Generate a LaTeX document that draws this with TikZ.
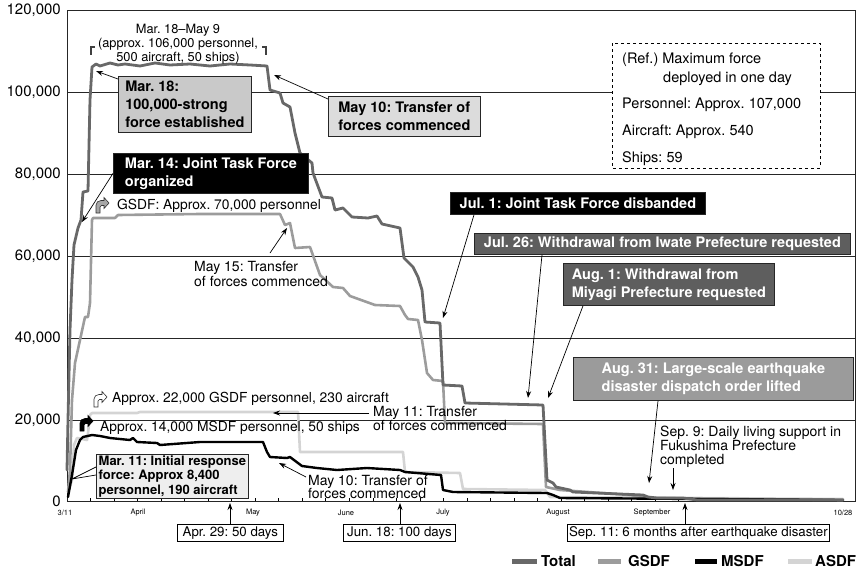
\documentclass[tikz,border=0pt]{standalone}
\usepackage{fontspec}
\setmainfont{TeX Gyre Heros}
\usetikzlibrary{arrows.meta}
\frenchspacing
\definecolor{ctotal}{HTML}{686868}
\definecolor{cgsdf}{HTML}{9C9C9C}
\definecolor{cmsdf}{HTML}{000000}
\definecolor{casdf}{HTML}{D4D4D4}
\definecolor{boxlight}{HTML}{C9C9C9}
\definecolor{boxpale}{HTML}{DCDCDC}
\definecolor{boxfaint}{HTML}{EEEEEE}
\definecolor{boxdark}{HTML}{5E5E5E}
\definecolor{boxmid}{HTML}{9B9B9B}
\newcommand\fsz[2]{\fontsize{#1}{#2}\selectfont\frenchspacing}
\tikzset{
  grid line/.style={line width=0.7pt, black!85},
  curve/.style={line width=2.6pt, line join=round, line cap=round},
  callout/.style={draw=black!85, line width=0.8pt, anchor=north west, align=left, inner xsep=0pt, inner ysep=0pt, font=\fsz{14.5}{18}\bfseries},
  datebox/.style={draw=black, line width=0.8pt, anchor=north west, align=center, inner sep=0pt, font=\fsz{13.3}{15}},
  plain/.style={inner sep=0pt, align=left},
  ptr/.style={line width=0.7pt, -{Stealth[length=7pt,width=5pt]}},
  leader/.style={line width=0.7pt},
  ylab/.style={anchor=east, inner sep=0pt, font=\fsz{15}{16}},
  xlab/.style={anchor=center, inner sep=0pt, font=\fsz{7.5}{8}},
  legtext/.style={anchor=west, inner sep=0pt, font=\fsz{15}{16}\bfseries},
  benticon/.pic={\path[pic actions] (0,14) -- (0,6) to[out=90,in=180] (5,1.5) -- (8,1.5) -- (8,-1.5) -- (13,4) -- (8,9.5) -- (8,6.5) -- (5.5,6.5) to[out=180,in=90] (4,8) -- (4,14) -- cycle;}
}
\begin{document}
\begin{tikzpicture}[x=1pt,y=-1pt]
\useasboundingbox (0,0) rectangle (858,570);

% grid and frame
\foreach \gy in {92,174,256,338,420} \draw[grid line] (67,\gy) -- (855,\gy);
\draw[grid line] (67,10) rectangle (855,501);
\foreach \d in {7,14,...,231} \draw[line width=0.5pt] ({67+3.36*\d},501) -- ++(0,-3);

% y labels
\node[ylab] (y120) at (61,10) {120,000};
\node[ylab] (y100) at (61,92) {100,000};
\node[ylab] (y80) at (61,174) {80,000};
\node[ylab] (y60) at (61,256) {60,000};
\node[ylab] (y40) at (61,338) {40,000};
\node[ylab] (y20) at (61,420) {20,000};
\node[ylab] (y0) at (61,501) {0};

% x labels
\node[xlab] (x1) at (65,513) {3/11};
\node[xlab] (x2) at (138,513) {April};
\node[xlab] (x3) at (253,513) {May};
\node[xlab] (x4) at (346,513) {June};
\node[xlab] (x5) at (443,513) {July};
\node[xlab] (x6) at (558,513) {August};
\node[xlab] (x7) at (652,513) {September};
\node[xlab] (x8) at (843,513) {10/28};

% curves
\draw[curve, casdf] (69,490) -- (72,480) -- (74,445) -- (77,438) -- (87,440) -- (88,433) -- (90,415) -- (92,413) -- (137,413) -- (140,412) -- (298,412) -- (300,452) -- (403,452) -- (405,472) -- (460,473) -- (463,489) -- (545,490) -- (550,497) -- (843,499);
\draw[curve, cgsdf] (68,492) -- (70,470) -- (72,400) -- (75,363) -- (85,317) -- (88,317) -- (90,303) -- (92,220) -- (93,218) -- (115,218) -- (118,215) -- (200,214) -- (280,214) -- (285,225) -- (290,223) -- (295,248) -- (310,247) -- (320,275) -- (333,287) -- (343,288) -- (350,296) -- (375,305) -- (400,306) -- (405,315) -- (408,319) -- (418,320) -- (422,340) -- (427,373) -- (433,380) -- (443,381) -- (445,423) -- (543,424) -- (546,487) -- (560,490) -- (630,495) -- (647,498) -- (843,500);
\draw[curve, cmsdf, line width=2.4pt] (68,497) -- (72,475) -- (76,450) -- (80,440) -- (83,437) -- (92,435) -- (100,436) -- (110,438) -- (130,440) -- (133,438) -- (137,442) -- (157,443) -- (160,445) -- (200,442) -- (263,442) -- (267,452) -- (270,457) -- (287,458) -- (290,457) -- (302,466) -- (317,468) -- (337,470) -- (367,468) -- (400,470) -- (405,472) -- (441,475) -- (443,490) -- (453,492) -- (547,493) -- (553,495) -- (560,498) -- (843,500);
\draw[curve, ctotal, line width=2.8pt] (67,470) -- (68,420) -- (70,330) -- (72,280) -- (74,245) -- (78,228) -- (81,220) -- (83,192) -- (88,191) -- (90,100) -- (92,67) -- (96,64) -- (100,66) -- (110,63) -- (118,65) -- (125,64) -- (140,66) -- (155,63) -- (170,65) -- (190,64) -- (210,66) -- (230,64) -- (250,65) -- (267,66) -- (270,90) -- (280,93) -- (283,103) -- (290,107) -- (295,133) -- (300,153) -- (312,163) -- (313,173) -- (322,197) -- (332,198) -- (335,210) -- (343,208) -- (352,217) -- (368,218) -- (377,216) -- (382,224) -- (400,228) -- (404,258) -- (413,267) -- (418,277) -- (422,290) -- (425,322) -- (440,323) -- (443,385) -- (462,386) -- (465,403) -- (543,405) -- (547,480) -- (553,483) -- (556,487) -- (570,490) -- (573,492) -- (643,495) -- (648,497) -- (657,498) -- (683,498) -- (697,500) -- (843,500);

% target coordinates
\coordinate (t18) at (96,71);
\coordinate (t14) at (82,222);
\coordinate (t10a) at (274,75);
\coordinate (t15) at (287,228);
\coordinate (s15) at (270,253);
\coordinate (tjul1) at (443,318);
\coordinate (tjul26) at (528,398);
\coordinate (taug1) at (548,398);
\coordinate (taug31) at (649,483);
\coordinate (tsep9) at (673,490);
\coordinate (ssep9) at (673,468);
\coordinate (t11) at (273,413);
\coordinate (s11) at (369,413);
\coordinate (t10b) at (279,463);
\coordinate (s10b) at (306,477);
\coordinate (tm11) at (72,479);
\coordinate (tapr) at (230,503);
\coordinate (tjun) at (400,503);
\coordinate (tsep) at (685,503);

% bracket
\draw[line width=1.2pt, black!75] (95,47) -- (91,47) -- (91,55);
\draw[line width=1.2pt, black!75] (262,47) -- (266,47) -- (266,55);
\node[plain, anchor=north, align=center, font=\fsz{12.8}{14}] (period) at (178,24) {Mar. 18–May 9\\(approx. 106,000 personnel,\\500 aircraft, 50 ships)};

% callout boxes
\node[callout, fill=boxlight, minimum width=133pt, minimum height=56pt] (m18) at (118,76) {Mar. 18:\\100,000-strong\\force established};
\node[callout, fill=boxpale, minimum width=152pt, minimum height=40pt] (m10a) at (328,96) {May 10: Transfer of\\forces commenced};
\node[callout, fill=black, text=white, minimum width=195pt, minimum height=40pt] (m14) at (113,153) {Mar. 14: Joint Task Force\\organized};
\node[callout, fill=black, text=white, minimum width=255pt, minimum height=22pt] (jul1) at (450,192) {Jul. 1: Joint Task Force disbanded};
\node[callout, fill=boxdark, text=white, minimum width=376pt, minimum height=21pt] (jul26) at (474,233) {Jul. 26: Withdrawal from Iwate Prefecture requested};
\node[callout, fill=boxdark, text=white, minimum width=211pt, minimum height=42pt] (aug1) at (563,263) {Aug. 1: Withdrawal from\\Miyagi Prefecture requested};
\node[callout, fill=boxmid, text=white, minimum width=280pt, minimum height=43pt] (aug31) at (573,357) {Aug. 31: Large-scale earthquake\\disaster dispatch order lifted};
\node[callout, fill=boxfaint, minimum width=152pt, minimum height=44pt, font=\fsz{13}{14.5}\bfseries] (m11) at (96,454) {Mar. 11: Initial response\\force: Approx 8,400\\personnel, 190 aircraft};

% reference box
\draw[dashed, line width=0.7pt, fill=white] (612,43) rectangle (820,168);
\node[plain, anchor=base west, font=\fsz{14.5}{16}] (ref1) at (622,63) {(Ref.) Maximum force};
\node[plain, anchor=base west, font=\fsz{14.5}{16}] (ref2) at (663,82.5) {deployed in one day};
\node[plain, anchor=base west, font=\fsz{14.5}{16}] (ref3) at (622,108) {Personnel: Approx. 107,000};
\node[plain, anchor=base west, font=\fsz{14.5}{16}] (ref4) at (622,135) {Aircraft: Approx. 540};
\node[plain, anchor=base west, font=\fsz{14.5}{16}] (ref5) at (622,162) {Ships: 59};

% plain labels
\pic[draw=black!80, fill=black!35, line width=0.6pt] at (96,199) {benticon};
\node[plain, anchor=base west, font=\fsz{13.8}{15}] (gsdf70) at (117,209) {GSDF: Approx. 70,000 personnel};
\node[plain, anchor=north west, font=\fsz{14}{15}] (m15) at (194,261) {May 15: Transfer\\of forces commenced};
\pic[draw=black!80, fill=white, line width=0.6pt] at (94,393) {benticon};
\node[plain, anchor=base west, font=\fsz{13.8}{15}] (g22) at (112,402) {Approx. 22,000 GSDF personnel, 230 aircraft};
\pic[draw=black, fill=black, line width=0.6pt] at (80,417) {benticon};
\node[plain, anchor=base west, font=\fsz{13.8}{15}] (m14k) at (100,431) {Approx. 14,000 MSDF personnel, 50 ships};
\node[plain, anchor=north west, font=\fsz{14}{12.8}] (m11t) at (373,406) {May 11: Transfer\\of forces commenced};
\node[plain, anchor=north west, font=\fsz{14}{13.5}] (m10b) at (308,475) {May 10: Transfer of\\forces commenced};
\node[plain, anchor=north west, font=\fsz{14}{14}] (sep9) at (660,426) {Sep. 9: Daily living support in\\Fukushima Prefecture\\completed};

% date boxes
\node[datebox, minimum width=106pt, minimum height=17pt] (apr29) at (177,524) {Apr. 29: 50 days};
\node[datebox, minimum width=112pt, minimum height=17pt] (jun18) at (343,524) {Jun. 18: 100 days};
\node[datebox, minimum width=262pt, minimum height=17pt] (sep11) at (567,524) {Sep. 11: 6 months after earthquake disaster};

% connectors
\draw[ptr] ([yshift=-3pt]m18.north west) -- (t18);
\draw[ptr] ([yshift=-3pt]m10a.north west) -- (t10a);
\draw[ptr] (m14.west) -- (t14);
\draw[ptr] (s15) -- (t15);
\draw[ptr] ([xshift=24pt]jul1.south west) -- (tjul1);
\draw[ptr] ([xshift=68pt]jul26.south west) -- (tjul26);
\draw[ptr] ([xshift=20pt]aug1.south west) -- (taug1);
\draw[ptr] ([xshift=85pt]aug31.south west) -- (taug31);
\draw[ptr] (ssep9) -- (tsep9);
\draw[ptr] (s11) -- (t11);
\draw[ptr] (s10b) -- (t10b);
\draw[leader] ([yshift=-13pt]m11.north west) -- (tm11) -- ([yshift=-21pt]m11.north west);
\draw[ptr] (apr29.north -| tapr) -- (tapr);
\draw[ptr] (jun18.north -| tjun) -- (tjun);
\draw[ptr] (sep11.north -| tsep) -- (tsep);

% legend
\draw[line width=5pt, ctotal] (512,561) -- (537,561);
\node[legtext] (lt) at (541,561) {Total};
\draw[line width=5pt, cgsdf] (598,561) -- (621,561);
\node[legtext] (lg) at (628,561) {GSDF};
\draw[line width=5pt, cmsdf] (695,561) -- (717,561);
\node[legtext] (lm) at (721,561) {MSDF};
\draw[line width=5pt, casdf] (788,561) -- (812,561);
\node[legtext] (la) at (815,561) {ASDF};
\end{tikzpicture}
\end{document}
